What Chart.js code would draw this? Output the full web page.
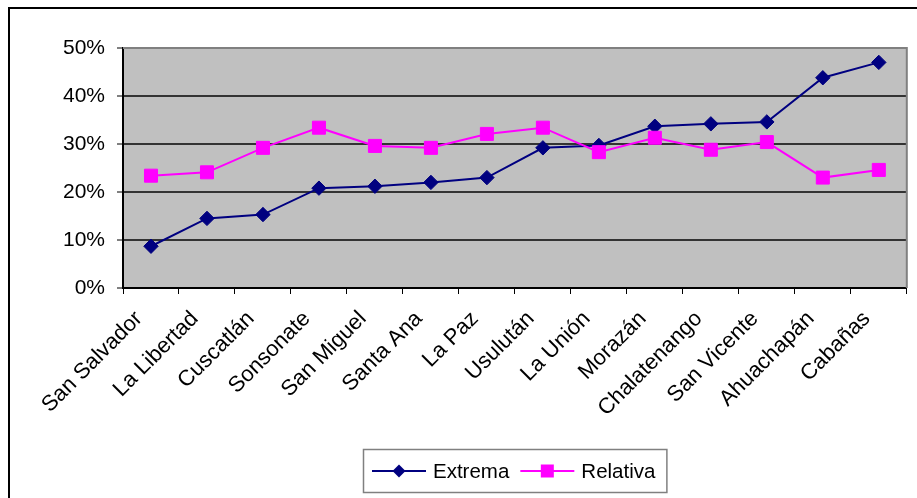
<!DOCTYPE html>
<html>
<head>
<meta charset="utf-8">
<script src="https://cdn.jsdelivr.net/npm/chart.js@4/dist/chart.umd.min.js"></script>
<style>
  html, body { margin: 0; padding: 0; background: #ffffff; }
  #wrap { width: 917px; height: 498px; position: relative; }
</style>
</head>
<body>
<div id="wrap"><canvas id="c" width="917" height="498"></canvas></div>
<script>
// Pobreza por departamento (% de hogares)
const departamentos = [
  'San Salvador', 'La Libertad', 'Cuscatlán', 'Sonsonate', 'San Miguel',
  'Santa Ana', 'La Paz', 'Usulután', 'La Unión', 'Morazán',
  'Chalatenango', 'San Vicente', 'Ahuachapán', 'Cabañas'
];
const extrema = [8.7, 14.5, 15.3, 20.8, 21.2, 22.0, 23.0, 29.2, 29.7, 33.7, 34.2, 34.6, 43.8, 47.0];
const relativa = [23.4, 24.1, 29.2, 33.4, 29.6, 29.2, 32.1, 33.4, 28.3, 31.3, 28.8, 30.4, 23.0, 24.6];
const yMin = 0;
const yMax = 50;
const yStep = 10;

const FAMILY = '"Liberation Sans", Arial, sans-serif';
const X_FONT = { family: FAMILY, size: 22 };
const Y_FONT = { family: FAMILY, size: 21 };
const LEGEND_FONT = { family: FAMILY, size: 20.5 };

// Gray plot background and its top/right frame
const plotFrame = {
  id: 'plotFrame',
  beforeDraw(chart) {
    const { ctx, chartArea: a } = chart;
    ctx.save();
    ctx.fillStyle = '#c0c0c0';
    ctx.fillRect(a.left, a.top, a.right - a.left, a.bottom - a.top);
    ctx.restore();
  },
  beforeDatasetsDraw(chart) {
    const { ctx, chartArea: a } = chart;
    ctx.save();
    ctx.strokeStyle = '#808080';
    ctx.lineWidth = 2;
    ctx.beginPath();
    ctx.moveTo(a.left, a.top);
    ctx.lineTo(a.right, a.top);
    ctx.lineTo(a.right, a.bottom);
    ctx.stroke();
    ctx.restore();
  }
};

function drawMarker(ctx, style, x, y, half, color) {
  ctx.fillStyle = color;
  ctx.beginPath();
  if (style === 'rectRot') {
    ctx.moveTo(x, y - half);
    ctx.lineTo(x + half, y);
    ctx.lineTo(x, y + half);
    ctx.lineTo(x - half, y);
    ctx.closePath();
  } else {
    ctx.rect(x - half, y - half, half * 2, half * 2);
  }
  ctx.fill();
}

// Boxed legend below the axis, line + marker samples
const boxLegend = {
  id: 'boxLegend',
  afterDraw(chart) {
    const { ctx, chartArea: a } = chart;
    const sets = chart.data.datasets;
    ctx.save();
    ctx.font = `${LEGEND_FONT.size}px ${LEGEND_FONT.family}`;
    const padL = 9, lineLen = 54, gapText = 7, gapItem = 11, padR = 12;
    let total = padL + padR;
    const widths = sets.map(d => ctx.measureText(d.label).width);
    widths.forEach((w, i) => { total += lineLen + gapText + w + (i < widths.length - 1 ? gapItem : 0); });
    const cx = (a.left + a.right) / 2;
    const x0 = Math.round(cx - total / 2);
    const top = 449, h = 44;
    const midY = top + h / 2;
    ctx.fillStyle = '#ffffff';
    ctx.fillRect(x0, top, total, h);
    ctx.strokeStyle = '#808080';
    ctx.lineWidth = 1.5;
    ctx.strokeRect(x0 + 0.5, top + 0.5, total - 1, h - 1);
    let x = x0 + padL;
    sets.forEach((d, i) => {
      ctx.strokeStyle = d.borderColor;
      ctx.lineWidth = 2;
      ctx.beginPath();
      ctx.moveTo(x, midY);
      ctx.lineTo(x + lineLen, midY);
      ctx.stroke();
      drawMarker(ctx, d.pointStyle, x + lineLen / 2, midY, 6.5, d.backgroundColor);
      x += lineLen + gapText;
      ctx.fillStyle = '#000000';
      ctx.textBaseline = 'middle';
      ctx.textAlign = 'left';
      ctx.fillText(d.label, x, midY + 1);
      x += widths[i] + gapItem;
    });
    // outer frame of the figure
    ctx.fillStyle = '#000000';
    ctx.fillRect(8, 7, chart.width - 8, 2);
    ctx.fillRect(8, 7, 2, chart.height - 7);
    ctx.restore();
  }
};

new Chart(document.getElementById('c'), {
  type: 'line',
  data: {
    labels: departamentos,
    datasets: [
      {
        label: 'Extrema',
        data: extrema,
        borderColor: '#000080',
        backgroundColor: '#000080',
        borderWidth: 2,
        pointStyle: 'rectRot',
        pointRadius: 7.2,
        pointBorderWidth: 1,
        pointBorderColor: '#000080',
        pointBackgroundColor: '#000080',
        tension: 0,
        order: 1
      },
      {
        label: 'Relativa',
        data: relativa,
        borderColor: '#ff00ff',
        backgroundColor: '#ff00ff',
        borderWidth: 2,
        pointStyle: 'rect',
        pointRadius: 9.2,
        pointBorderWidth: 1,
        pointBorderColor: '#ff00ff',
        pointBackgroundColor: '#ff00ff',
        tension: 0,
        order: 0
      }
    ]
  },
  options: {
    responsive: false,
    devicePixelRatio: 1,
    animation: false,
    events: [],
    layout: { padding: { top: 48, right: 8, left: 0, bottom: 0 } },
    plugins: {
      legend: { display: false },
      tooltip: { enabled: false }
    },
    scales: {
      x: {
        offset: true,
        grid: {
          offset: true,
          drawOnChartArea: false,
          drawTicks: true,
          tickLength: 6,
          tickColor: '#000000',
          tickWidth: 1
        },
        border: { display: true, color: '#000000', width: 2 },
        ticks: {
          color: '#000000',
          font: X_FONT,
          minRotation: 45,
          maxRotation: 45,
          autoSkip: false,
          padding: 12,
          labelOffset: -12
        },
        afterFit(scale) { scale.height = 210; }
      },
      y: {
        min: yMin,
        max: yMax,
        ticks: {
          stepSize: yStep,
          color: '#000000',
          font: Y_FONT,
          padding: 12,
          callback: v => v + '%'
        },
        grid: {
          color: '#333333',
          lineWidth: 2,
          tickColor: '#000000',
          tickWidth: 1,
          tickLength: 6
        },
        border: { display: true, color: '#000000', width: 2 },
        afterFit(scale) { scale.width = 123; }
      }
    }
  },
  plugins: [plotFrame, boxLegend]
});
</script>
</body>
</html>
